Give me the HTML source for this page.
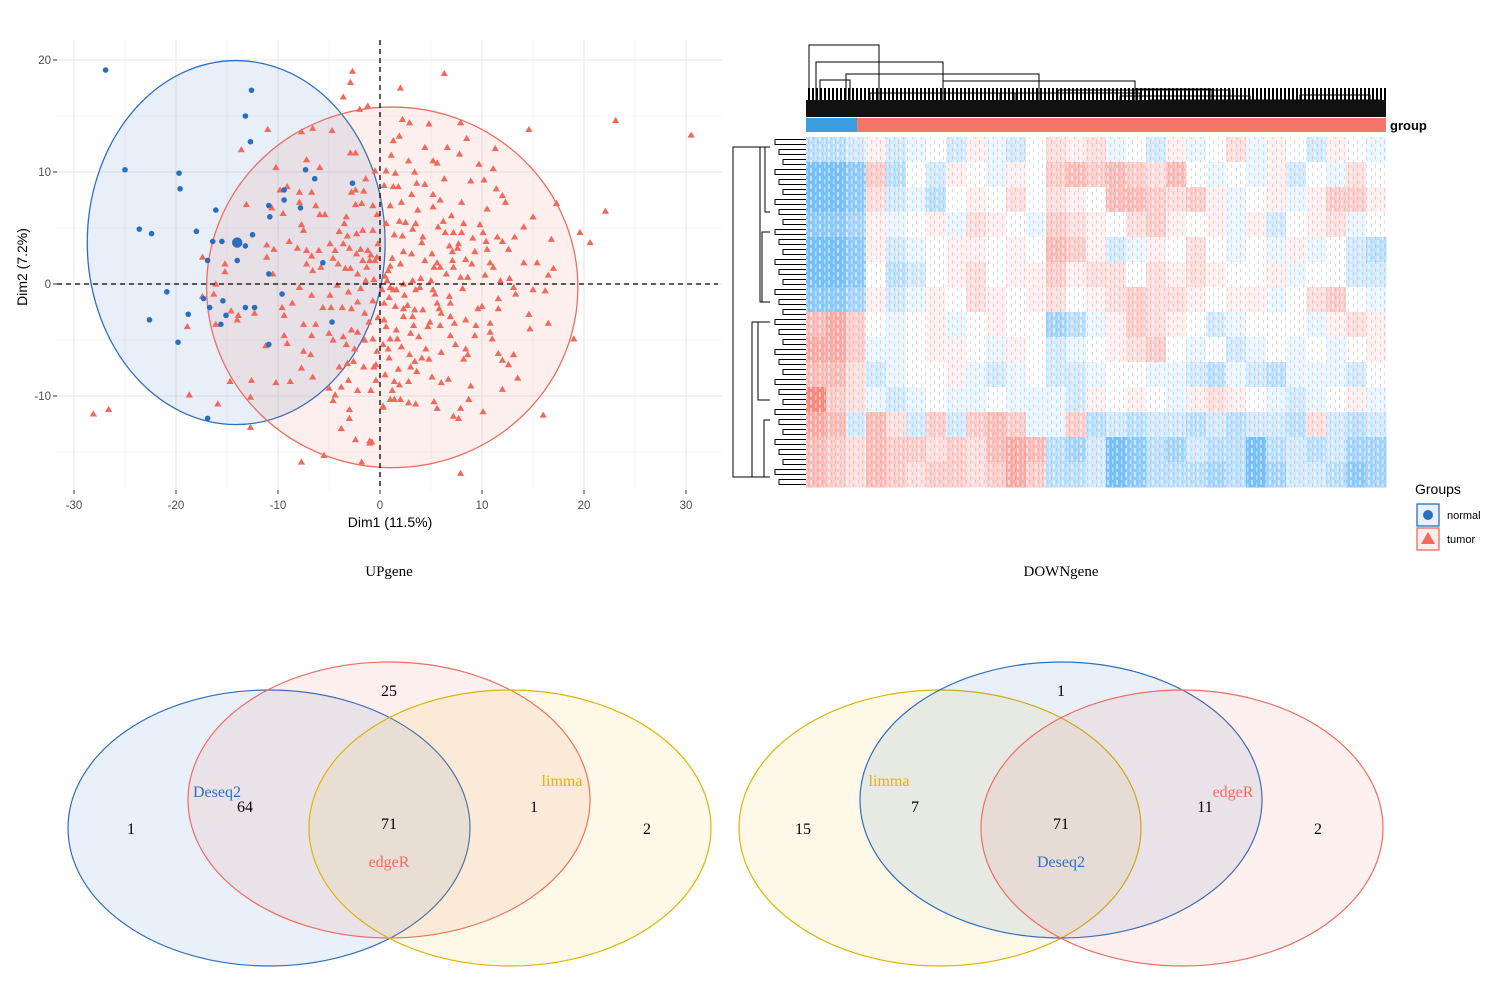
<!DOCTYPE html>
<html><head><meta charset="utf-8">
<style>
html,body{margin:0;padding:0;background:#fff;}
body{width:1500px;height:1000px;overflow:hidden;position:relative;font-family:"Liberation Sans",sans-serif;}
svg{position:absolute;left:0;top:0;}
</style></head>
<body>
<svg id="root" width="1500" height="1000" viewBox="0 0 1500 1000">
  <g id="pca"></g>
  <g id="heat"></g>
  <g id="venn"></g>
</svg>
<script>
// ---------- PCA data ----------
const normalPoints = [[-26.9,19.1],[-12.6,17.3],[-13.2,15.0],[-12.7,12.7],[-25.0,10.2],[-19.7,9.9],[-19.6,8.5],[-7.3,10.2],[-6.4,9.4],[-9.4,8.4],[-9.4,7.5],[-2.7,9.0],[-10.9,7.0],[-7.8,6.8],[-16.1,6.6],[-23.6,4.9],[-22.4,4.5],[-18.0,4.7],[-15.5,3.8],[-16.4,3.8],[-10.8,6.0],[-12.5,4.4],[-14.0,2.1],[-10.9,0.9],[-16.9,2.1],[-20.9,-0.7],[-17.3,-1.3],[-15.4,-1.5],[-16.7,-2.1],[-15.1,-2.8],[-18.8,-2.7],[-22.6,-3.2],[-19.8,-5.2],[-15.6,-3.6],[-12.3,-2.1],[-10.9,-5.4],[-4.7,-3.4],[-9.6,-0.9],[-16.9,-12.0],[-5.6,1.9],[-13.2,-2.1],[-13.2,3.4]];
const normalMean = [-14.0,3.7];
const tumorPoints = [[6.3,18.8],[2.0,17.5],[2.2,14.7],[2.9,14.4],[4.8,14.3],[7.9,14.4],[14.6,13.8],[23.1,14.6],[30.5,13.3],[1.3,12.8],[1.9,13.2],[4.4,12.2],[6.6,12.2],[8.5,13.0],[11.3,12.1],[7.8,11.6],[1.1,11.5],[5.2,11.0],[5.6,10.8],[9.7,10.7],[11.1,10.3],[0.6,10.1],[1.5,9.9],[3.4,10.0],[10.2,9.3],[1.3,8.7],[1.8,8.7],[3.1,8.0],[5.2,8.0],[5.9,7.5],[8.0,7.3],[11.4,8.5],[12.0,7.9],[12.3,7.3],[17.3,7.2],[22.1,6.5],[15.0,6.0],[1.0,7.0],[2.1,7.3],[3.7,6.6],[5.2,6.9],[10.5,6.7],[1.9,5.6],[2.5,5.5],[3.5,5.4],[3.2,4.9],[8.2,5.4],[9.8,5.3],[5.7,5.1],[14.1,5.1],[19.6,4.6],[20.6,3.7],[16.8,4.0],[1.4,4.4],[2.2,4.3],[4.2,4.2],[6.4,4.6],[7.2,4.6],[8.0,4.6],[10.1,4.6],[10.4,3.8],[11.5,4.2],[12.0,3.8],[4.1,3.7],[6.8,3.4],[7.7,3.6],[7.6,3.2],[7.1,2.9],[9.3,2.9],[10.5,3.1],[12.6,3.1],[2.3,2.9],[3.1,2.7],[5.1,2.7],[1.2,2.3],[4.4,2.1],[5.6,1.9],[7.1,2.1],[8.4,2.2],[9.0,1.8],[10.8,1.9],[11.1,1.5],[14.1,1.9],[15.4,1.9],[17.0,1.4],[16.5,0.8],[1.0,1.6],[2.0,1.8],[0.8,1.2],[5.3,1.5],[5.9,1.5],[7.2,1.5],[6.5,0.9],[4.0,0.5],[3.2,0.3],[5.0,0.3],[7.9,0.6],[8.6,0.6],[10.3,0.8],[11.8,0.3],[12.7,0.5],[0.7,0.3],[1.0,-0.3],[1.3,-0.5],[1.6,-0.5],[2.3,0.0],[3.5,-0.5],[3.9,-0.3],[5.2,-0.5],[5.4,-0.9],[13.1,-0.3],[13.3,-0.9],[15.0,-0.5],[16.2,-0.6],[8.1,-0.4],[2.4,-1.0],[0.4,-1.7],[1.5,-2.0],[2.3,-2.2],[2.7,-1.9],[3.4,-2.3],[4.2,-2.3],[5.6,-1.7],[5.8,-2.2],[6.0,-2.6],[6.8,-1.1],[6.9,-1.7],[9.6,-2.2],[10.0,-2.0],[11.6,-2.2],[11.6,-1.3],[14.6,-2.7],[16.5,-3.5],[2.3,-2.9],[3.2,-2.9],[6.9,-2.9],[4.9,-3.4],[4.7,-3.8],[5.9,-3.7],[7.3,-3.5],[8.4,-3.2],[9.4,-3.7],[10.8,-3.5],[0.6,-3.8],[1.6,-4.1],[3.3,-3.7],[3.0,-4.4],[3.8,-4.7],[6.9,-4.6],[9.3,-4.6],[10.8,-4.3],[11.0,-4.9],[14.7,-4.0],[19.0,-4.9],[1.0,-4.9],[1.7,-4.9],[0.3,-5.4],[0.8,-5.8],[2.9,-6.3],[3.4,-6.9],[4.1,-6.6],[4.5,-5.8],[4.8,-6.7],[6.0,-6.1],[7.4,-5.4],[8.4,-5.8],[8.6,-6.3],[8.2,-6.7],[11.6,-6.2],[12.0,-6.8],[12.6,-7.2],[13.1,-6.3],[-0.4,-7.2],[1.8,-7.6],[3.0,-7.4],[3.6,-7.8],[0.5,-8.1],[5.1,-8.3],[6.7,-8.5],[13.5,-8.4],[1.4,-8.7],[1.9,-9.0],[2.8,-8.7],[6.0,-8.8],[8.9,-9.1],[1.2,-9.5],[12.0,-9.4],[1.0,-10.3],[1.4,-10.3],[2.0,-10.3],[2.8,-10.6],[3.5,-10.7],[5.3,-10.5],[5.6,-11.1],[8.7,-10.3],[10.1,-11.4],[16.0,-11.7],[0.3,-10.9],[7.9,-11.1],[7.2,-11.8],[7.7,-12.0],[7.9,-16.9],[-0.8,-14.1],
[-2.7,19.0],[-2.9,18.0],[-3.6,16.7],[-2.0,15.6],[-1.2,15.9],[-11.0,13.8],[-13.6,12.0],[-7.7,13.6],[-6.6,13.9],[-4.7,13.7],[-2.9,11.7],[-2.4,11.7],[-10.2,10.4],[-7.2,11.1],[-5.9,10.4],[-0.5,10.1],[-1.4,9.4],[-2.4,8.4],[-1.6,8.3],[-2.8,8.2],[-9.1,8.7],[-7.9,8.2],[-6.7,8.2],[-9.8,8.4],[-13.1,7.1],[-10.6,6.8],[-9.5,6.3],[-7.9,7.3],[-6.3,7.0],[-5.9,6.2],[-5.4,6.2],[-7.5,4.8],[-7.7,5.3],[-3.3,6.0],[-2.4,7.1],[-1.8,7.2],[-0.7,7.0],[-3.5,5.4],[-4.0,4.7],[-3.2,4.3],[-2.3,4.5],[-1.7,4.8],[-0.7,4.8],[-11.1,3.5],[-10.4,3.1],[-8.9,3.8],[-8.1,3.2],[-7.2,3.0],[-6.7,2.5],[-6.0,3.0],[-4.9,3.6],[-4.4,3.0],[-3.6,3.6],[-3.0,3.2],[-2.3,2.7],[-1.7,2.1],[-1.0,2.1],[-0.5,2.1],[-0.2,3.6],[-7.2,1.8],[-6.6,1.2],[-5.8,1.5],[-4.6,2.3],[-4.1,1.8],[-3.4,1.4],[-2.9,1.4],[-2.2,0.9],[-1.3,1.5],[-11.1,2.4],[-10.5,0.9],[-17.4,2.4],[-15.2,1.8],[-15.2,1.1],[-16.1,0.0],[-17.4,-1.1],[-16.3,-0.9],[-14.6,-2.4],[-13.9,-2.8],[-14.0,-3.2],[-12.3,-2.6],[-18.9,-3.8],[-16.1,-3.6],[-11.2,-5.5],[-9.6,-2.1],[-9.4,-2.8],[-7.9,-0.3],[-8.6,-1.7],[-6.7,-1.0],[-5.6,-2.1],[-4.9,-1.0],[-4.2,-0.1],[-3.1,-0.7],[-1.9,-0.4],[-4.8,-2.1],[-3.7,-2.1],[-2.8,-2.2],[-2.2,-1.6],[-1.5,-2.6],[-0.7,-1.5],[-7.5,-3.6],[-6.3,-3.6],[-6.7,-4.6],[-5.0,-4.4],[-3.6,-4.7],[-2.8,-4.1],[-2.2,-4.3],[-1.5,-5.0],[-0.7,-4.9],[-9.4,-4.6],[-9.1,-5.3],[-4.6,-5.0],[-3.3,-5.4],[-2.5,-5.8],[-7.5,-6.0],[-6.8,-6.3],[-3.2,-7.1],[-4.0,-7.4],[-2.6,-6.9],[-1.6,-7.4],[-0.6,-7.4],[-7.7,-7.5],[-6.6,-8.3],[-3.1,-8.6],[-3.8,-9.2],[-4.4,-9.9],[-2.2,-9.5],[-0.9,-9.5],[-0.4,-8.6],[-8.8,-8.7],[-10.2,-8.8],[-12.6,-8.6],[-14.7,-8.7],[-12.7,-10.1],[-15.9,-10.7],[-18.7,-9.9],[-12.7,-12.8],[-5.0,-9.3],[-4.6,-10.4],[-3.0,-11.2],[-3.0,-12.0],[-3.8,-12.9],[-2.4,-13.9],[-1.0,-14.0],[-1.0,-14.2],[-7.7,-15.9],[-5.5,-15.3],[-1.8,-15.9],[-28.1,-11.6],[-26.6,-11.2],[0.3,-11.0],
[-1.2,3.0],[-0.9,2.6],[-0.3,2.4],[-1.9,3.1],[-0.6,0.4],[-1.4,0.3],[0.2,-0.5],[0.5,0.7],[0.9,-1.2],[-0.2,-3.0],[0.4,-3.2],[-1.1,-3.4],[0.6,5.4],[-0.3,6.2],[0.4,8.8],[2.8,11.0],[3.6,9.0],[4.4,8.9],[6.3,9.4],[8.9,9.2],[7.0,6.1],[6.2,5.6],[9.1,4.1],[13.2,4.2],[0.9,-6.6],[2.1,-5.6],[-0.3,-6.0]];
const xTicks = [-30,-20,-10,0,10,20,30];
const yTicks = [-10,0,10,20];
const normalEllipse = {cx:-14.1, cy:3.7, rx:14.6, ry:16.25};
const tumorEllipse  = {cx:1.2,  cy:-0.3, rx:18.2, ry:16.1};

// ---------- Heatmap data (coarse, rows top->bottom, values -1 blue .. +1 red) ----------
const heatRow0  = [-0.3,-0.3,-0.2,0.1,-0.2,-0.1,0.0,-0.2,0.1,-0.1,-0.2,0.0,0.2,0.1,0.2,-0.1,0.0,-0.2,0.1,-0.1,0.0,0.2,-0.1,0.1,0.0,-0.2,0.1,0.0,-0.1];
const heatRow1  = [-0.6,-0.6,-0.5,0.3,-0.3,0.0,-0.2,0.1,0.0,-0.1,0.1,0.0,0.3,0.4,0.3,0.4,0.3,0.2,0.4,0.0,-0.1,0.0,-0.1,0.1,-0.2,0.0,-0.1,0.2,0.0];
const heatRow2  = [-0.6,-0.6,-0.5,0.2,-0.2,-0.1,-0.3,0.0,0.1,0.0,0.2,0.0,0.2,0.1,0.0,0.4,0.4,0.3,0.2,0.3,0.1,-0.1,0.0,0.1,-0.1,0.1,0.3,0.3,0.1];
const heatRow3  = [-0.5,-0.5,-0.4,0.1,-0.1,0.0,0.1,-0.1,0.2,0.1,0.0,-0.1,0.3,0.2,0.1,0.0,0.2,0.3,0.1,0.0,0.1,-0.1,0.1,-0.2,0.0,0.1,0.2,-0.1,0.0];
const heatRow4  = [-0.6,-0.6,-0.5,0.1,-0.2,-0.1,0.0,0.1,0.1,0.0,0.1,0.0,0.4,0.3,0.1,-0.2,-0.1,0.1,0.0,0.2,0.0,-0.1,0.0,-0.1,0.1,-0.1,0.0,-0.2,-0.3];
const heatRow5  = [-0.6,-0.6,-0.5,0.0,-0.3,-0.2,0.0,0.1,0.2,0.0,0.1,0.1,0.3,0.1,0.2,0.2,0.0,0.2,0.1,0.2,0.1,0.0,0.0,0.1,-0.1,0.0,0.0,-0.2,-0.2];
const heatRow6  = [-0.5,-0.5,-0.4,0.1,-0.2,-0.1,0.1,0.0,0.2,0.1,0.0,0.1,0.2,0.0,0.1,0.2,0.3,0.2,0.2,0.1,0.0,0.1,0.1,-0.1,0.0,0.2,0.3,0.0,-0.1];
const heatRow7  = [0.4,0.5,0.3,0.0,-0.1,0.0,0.1,-0.1,0.0,0.1,0.0,0.0,-0.4,-0.3,-0.1,0.1,0.3,0.2,0.1,0.0,-0.2,-0.1,0.0,0.0,0.0,-0.1,0.1,0.2,0.1];
const heatRow8  = [0.5,0.5,0.3,-0.1,-0.1,0.0,0.1,0.1,0.0,-0.1,0.1,0.0,-0.2,-0.1,0.0,0.1,0.2,0.3,0.0,-0.1,0.0,-0.2,-0.1,0.0,-0.1,0.0,-0.1,0.0,0.1];
const heatRow9  = [0.4,0.4,0.2,-0.2,-0.1,0.0,0.0,0.1,-0.1,-0.2,-0.1,0.0,-0.2,-0.2,-0.1,0.0,0.0,-0.1,-0.1,-0.2,-0.3,-0.1,-0.2,-0.3,-0.1,-0.1,-0.1,-0.2,0.0];
const heatRow10 = [0.7,0.3,0.2,-0.1,-0.2,-0.1,0.0,-0.1,-0.1,0.0,-0.1,-0.1,-0.1,-0.2,0.1,0.0,0.1,0.0,-0.1,0.1,0.2,0.1,0.0,-0.1,-0.2,-0.1,0.0,0.1,-0.1];
const heatRow11 = [0.5,0.4,-0.2,0.4,0.2,-0.2,0.3,-0.2,0.3,0.4,0.3,-0.1,-0.1,0.3,-0.3,-0.2,-0.3,-0.2,-0.2,-0.3,-0.2,-0.3,-0.2,-0.2,-0.3,0.2,-0.2,-0.3,-0.2];
const heatRow12 = [0.4,0.3,0.2,0.4,0.3,0.3,0.2,0.3,0.2,0.4,0.5,0.4,-0.3,-0.4,-0.2,-0.6,-0.5,-0.3,-0.4,-0.2,-0.3,-0.3,-0.6,-0.3,-0.2,-0.3,-0.2,-0.4,-0.4];
const heatRow13 = [0.4,0.3,0.2,0.4,0.3,0.2,0.3,0.3,0.2,0.3,0.5,0.3,-0.3,-0.3,-0.2,-0.6,-0.5,-0.3,-0.3,-0.3,-0.4,-0.3,-0.6,-0.4,-0.2,-0.2,-0.3,-0.5,-0.4];
const heatRows = [heatRow0,heatRow1,heatRow2,heatRow3,heatRow4,heatRow5,heatRow6,heatRow7,heatRow8,heatRow9,heatRow10,heatRow11,heatRow12,heatRow13];
const groupSegments = [["normal",0,0.088],["tumor",0.088,1]];

// ---------- Venn data ----------
const upCounts = [["1",131,828],["64",245,806],["25",389,690],["71",389,823],["1",534,806],["2",647,828]];
const downCounts = [["1",1061,690],["15",803,828],["7",915,806],["71",1061,823],["11",1205,806],["2",1318,828]];

const NS="http://www.w3.org/2000/svg";
function mk(parent,tag,attrs,name,inter){
  const e=document.createElementNS(NS,tag);
  for(const k in attrs) e.setAttribute(k,attrs[k]);
  
  
  parent.appendChild(e); return e;
}
// ---------- PCA ----------
const pca=document.getElementById('pca');
const X0=57,X1=722,Y0=40,Y1=490;
const sx=v=>380+v*10.2, sy=v=>284-v*11.2;
for(let v=-25;v<=35;v+=10){ if(sx(v)>X0&&sx(v)<X1){ mk(pca,'line',{x1:sx(v),x2:sx(v),y1:Y0,y2:Y1,stroke:'#f3f3f3','stroke-width':0.8},'minor-grid-x',false);} }
for(let v=-15;v<=20;v+=10){ mk(pca,'line',{x1:X0,x2:X1,y1:sy(v),y2:sy(v),stroke:'#f3f3f3','stroke-width':0.8},'minor-grid-y',false);}
xTicks.forEach(v=>{ mk(pca,'line',{x1:sx(v),x2:sx(v),y1:Y0,y2:Y1,stroke:'#e6e6e6','stroke-width':1},'major-grid-x',false);
  mk(pca,'line',{x1:sx(v),x2:sx(v),y1:Y1,y2:Y1+4,stroke:'#333','stroke-width':1},'x-tick',false);
  const t=mk(pca,'text',{x:sx(v),y:509,'text-anchor':'middle','font-size':11.5,fill:'#4d4d4d'},'x-tick-label',false); t.textContent=v;});
yTicks.forEach(v=>{ mk(pca,'line',{x1:X0,x2:X1,y1:sy(v),y2:sy(v),stroke:'#e6e6e6','stroke-width':1},'major-grid-y',false);
  mk(pca,'line',{x1:X0-4,x2:X0,y1:sy(v),y2:sy(v),stroke:'#333','stroke-width':1},'y-tick',false);
  const t=mk(pca,'text',{x:X0-6,y:sy(v)+4,'text-anchor':'end','font-size':11.5,fill:'#4d4d4d'},'y-tick-label',false); t.textContent=v;});
mk(pca,'ellipse',{cx:sx(normalEllipse.cx),cy:sy(normalEllipse.cy),rx:normalEllipse.rx*10.2,ry:normalEllipse.ry*11.2,fill:'rgba(42,110,200,0.11)',stroke:'#2f6fbf','stroke-width':1.3},'normal-ellipse',false);
mk(pca,'ellipse',{cx:sx(tumorEllipse.cx),cy:sy(tumorEllipse.cy),rx:tumorEllipse.rx*10.2,ry:tumorEllipse.ry*11.2,fill:'rgba(240,110,95,0.11)',stroke:'#ee6e60','stroke-width':1.3},'tumor-ellipse',false);
tumorPoints.forEach(p=>{const x=sx(p[0]),y=sy(p[1]);
  mk(pca,'polygon',{points:`${x},${y-3.6} ${x-3.6},${y+2.6} ${x+3.6},${y+2.6}`,fill:'#ef6a5c'},'tumor-point',false);});
normalPoints.forEach(p=>{ mk(pca,'circle',{cx:sx(p[0]),cy:sy(p[1]),r:2.8,fill:'#2a6ebf'},'normal-point',false);});
mk(pca,'circle',{cx:sx(normalMean[0]),cy:sy(normalMean[1]),r:5.2,fill:'#2a6ebf'},'normal-centroid',false);
mk(pca,'line',{x1:380,x2:380,y1:Y0,y2:Y1,stroke:'#000','stroke-width':1.3,'stroke-dasharray':'5,4'},'x-zero-line',false);
mk(pca,'line',{x1:X0,x2:X1-4,y1:284,y2:284,stroke:'#000','stroke-width':1.3,'stroke-dasharray':'5,4'},'y-zero-line',false);
let t=mk(pca,'text',{x:390,y:527,'text-anchor':'middle','font-size':14,fill:'#000'},'x-axis-title',false); t.textContent='Dim1 (11.5%)';
t=mk(pca,'text',{x:0,y:0,'text-anchor':'middle','font-size':14,fill:'#000',transform:'translate(27,267) rotate(-90)'},'y-axis-title',false); t.textContent='Dim2 (7.2%)';

// ---------- Heatmap ----------
const heat=document.getElementById('heat');
const HX=806,HW=580,HY=137,HH=350;
const nC=heatRows[0].length,nR=heatRows.length,cw=HW/nC,rh=HH/nR;
function col(v){const a=Math.min(1,Math.abs(v)); if(v>=0){return `rgb(255,${Math.round(255-a*170)},${Math.round(255-a*185)})`;} return `rgb(${Math.round(255-a*230)},${Math.round(255-a*105)},255)`;}
heatRows.forEach((row,r)=>row.forEach((v,c)=>{
  mk(heat,'rect',{x:HX+c*cw,y:HY+r*rh,width:cw+0.5,height:rh+0.5,fill:col(v)},'heatmap-cell',false);}));
const defs=mk(heat,'defs',{},'defs',false);
const pat=mk(defs,'pattern',{id:'spk',width:9,height:8,patternUnits:'userSpaceOnUse'},'speckle-pattern',false);
mk(pat,'rect',{x:0,y:0,width:2,height:5,fill:'rgba(255,255,255,0.5)'},'speckle',false);
mk(pat,'rect',{x:5,y:3,width:1.5,height:5,fill:'rgba(255,255,255,0.4)'},'speckle',false);
mk(pat,'rect',{x:3,y:0,width:1,height:3,fill:'rgba(100,180,235,0.35)'},'speckle',false);
mk(pat,'rect',{x:7,y:4,width:1,height:4,fill:'rgba(240,120,110,0.3)'},'speckle',false);
mk(heat,'rect',{x:HX,y:HY,width:HW,height:HH,fill:'url(#spk)'},'heatmap-texture',false);
groupSegments.forEach(s=>mk(heat,'rect',{x:HX+s[1]*HW,y:118,width:(s[2]-s[1])*HW,height:14,fill:s[0]==='normal'?'#3a9ee0':'#f4766b'},'group-bar-'+s[0],false));
t=mk(heat,'text',{x:1390,y:130,'font-size':13,'font-weight':'bold',fill:'#000'},'group-label',false); t.textContent='group';
// top dendrogram
const td=[[809,879,45],[816,943,62],[846,1039,74],[943,1135,81],[870,1015,93],[1135,1211,89],[1058,1230,90],[1000,1140,93],[1150,1380,100],[820,850,80],[1120,1250,96],[1300,1370,95]];
td.forEach(l=>{mk(heat,'path',{d:`M${l[0]},117 V${l[2]} H${l[1]} V117`,fill:'none',stroke:'#000','stroke-width':1},'column-dendrogram-branch',false);});
const dpat=mk(defs,'pattern',{id:'dd',width:4,height:30,patternUnits:'userSpaceOnUse'},'dendro-pattern',false);
mk(dpat,'rect',{x:0,y:0,width:2,height:30,fill:'#000'},'dendro-line',false);
mk(heat,'rect',{x:806,y:88,width:580,height:29,fill:'url(#dd)'},'column-dendrogram-leaves',false);
mk(heat,'rect',{x:806,y:100,width:580,height:17,fill:'#111'},'column-dendrogram-base',false);
// left dendrogram
const nLeaf=70, lh=HH/nLeaf;
for(let i=0;i<nLeaf;i+=2){const y1=HY+(i+0.5)*lh,y2=HY+(i+1.5)*lh,xl=775+(i%6)*2;
  mk(heat,'path',{d:`M806,${y1} H${xl} V${y2} H806`,fill:'none',stroke:'#000','stroke-width':1},'row-dendrogram-leaf',false);}
const ld=[[137,312,760],[312,487,752],[137,222,765],[222,312,762],[312,410,758],[410,487,764],[137,487,733]];
ld.forEach(l=>{mk(heat,'path',{d:`M770,${l[0]+10} H${l[2]} V${l[1]-10} H770`,fill:'none',stroke:'#000','stroke-width':1},'row-dendrogram-branch',false);});
// legend
t=mk(heat,'text',{x:1415,y:494,'font-size':14,fill:'#000'},'legend-title',false); t.textContent='Groups';
mk(heat,'rect',{x:1417,y:504,width:22,height:22,fill:'#e8f0fa',stroke:'#2a6ebf','stroke-width':1.3},'legend-key-normal',false);
mk(heat,'circle',{cx:1428,cy:515,r:5,fill:'#2a6ebf'},'legend-symbol-normal',false);
t=mk(heat,'text',{x:1447,y:519,'font-size':11,fill:'#000'},'legend-label-normal',false); t.textContent='normal';
mk(heat,'rect',{x:1417,y:528,width:22,height:22,fill:'#fdeeec',stroke:'#ef6a5c','stroke-width':1.3},'legend-key-tumor',false);
mk(heat,'polygon',{points:'1428,532 1421,544 1435,544',fill:'#ef6a5c'},'legend-symbol-tumor',false);
t=mk(heat,'text',{x:1447,y:543,'font-size':11,fill:'#000'},'legend-label-tumor',false); t.textContent='tumor';

// ---------- Venn ----------
const venn=document.getElementById('venn');
const serif='"Liberation Serif",serif';
function ell(cx,cy,fill,stroke,name){mk(venn,'ellipse',{cx:cx,cy:cy,rx:201,ry:138,fill:fill,stroke:stroke,'stroke-width':1.2},name,false);}
const BF='rgba(42,110,200,0.1)',RF='rgba(240,110,95,0.1)',YF='rgba(235,190,20,0.1)';
const BS='#2f6fbf',RS='#ee6e60',YS='#e0b400';
ell(269,828,BF,BS,'up-deseq2-set');ell(389,800,RF,RS,'up-edger-set');ell(510,828,YF,YS,'up-limma-set');
ell(940,828,YF,YS,'down-limma-set');ell(1061,800,BF,BS,'down-deseq2-set');ell(1182,828,RF,RS,'down-edger-set');
function tx(s,x,y,c,name,sz){const e=mk(venn,'text',{x:x,y:y,'text-anchor':'middle','font-size':sz||16,fill:c,'font-family':serif},name,false);e.textContent=s;}
upCounts.forEach(c=>tx(c[0],c[1],c[2]+6,'#000','up-count'));
downCounts.forEach(c=>tx(c[0],c[1],c[2]+6,'#000','down-count'));
tx('Deseq2',217,797,BS,'up-deseq2-label');tx('edgeR',389,867,RS,'up-edger-label');tx('limma',562,786,YS,'up-limma-label');
tx('limma',889,786,YS,'down-limma-label');tx('Deseq2',1061,867,BS,'down-deseq2-label');tx('edgeR',1233,797,RS,'down-edger-label');
tx('UPgene',389,576,'#000','up-title',15);tx('DOWNgene',1061,576,'#000','down-title',15);
</script>
</body></html>
